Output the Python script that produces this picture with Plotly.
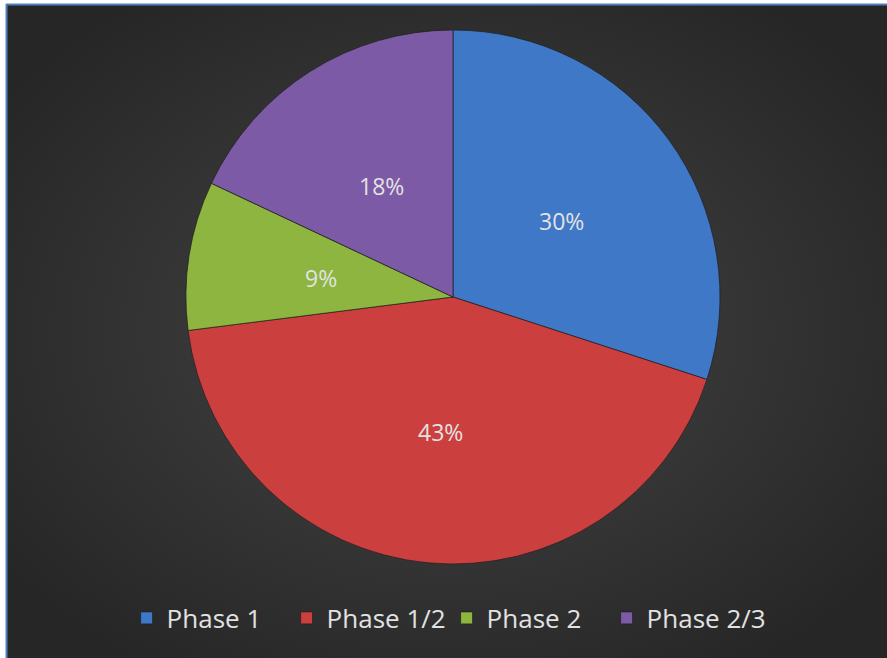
import base64
import math
import plotly.graph_objects as go

labels = ["Phase 1", "Phase 1/2", "Phase 2", "Phase 2/3"]
values = [30, 43, 9, 18]
colors = ["#3f78c6", "#cc3f3f", "#8db540", "#7c5aa6"]

W, H = 887, 658
left, top = 7, 5
dom_x = [186 / W, 720 / W]
dom_y = [(H - 564) / H, (H - 30) / H]

svg = f'''<svg xmlns="http://www.w3.org/2000/svg" width="{W-left}" height="{H-top}" viewBox="0 0 {W-left} {H-top}">
<defs><radialGradient id="g" cx="0.5" cy="0.5" r="0.62">
<stop offset="0" stop-color="#454545"/><stop offset="1" stop-color="#262626"/></radialGradient></defs>
<rect width="100%" height="100%" fill="url(#g)"/></svg>'''
bg_uri = "data:image/svg+xml;base64," + base64.b64encode(svg.encode()).decode()

fig = go.Figure(go.Pie(
    labels=labels,
    values=values,
    sort=False,
    direction="clockwise",
    rotation=0,
    marker=dict(colors=colors, line=dict(color="rgba(30,30,30,0.7)", width=1)),
    textinfo="none",
    hoverinfo="label+percent",
    domain=dict(x=dom_x, y=dom_y),
))

# percentage labels placed halfway along each slice's bisector (derived from values)
cx_px = (dom_x[0] + dom_x[1]) / 2 * W
cy_px = (dom_y[0] + dom_y[1]) / 2 * H
r_px = min((dom_x[1] - dom_x[0]) * W, (dom_y[1] - dom_y[0]) * H) / 2
total = sum(values)
annotations = []
cum = 0
for v in values:
    mid = 90 - (cum + v / 2) / total * 360
    cum += v
    px = cx_px + 0.5 * r_px * math.cos(math.radians(mid))
    py = cy_px + 0.5 * r_px * math.sin(math.radians(mid)) - 2
    annotations.append(dict(
        x=px / W, y=py / H, xref="paper", yref="paper", showarrow=False,
        text=f"{round(v / total * 100)}%",
        font=dict(family="Open Sans", size=23, color="#e2e2e2"),
        xanchor="center", yanchor="middle",
    ))

fig.update_layout(
    width=W, height=H,
    margin=dict(l=0, r=0, t=0, b=0),
    paper_bgcolor="white",
    showlegend=True,
    legend=dict(
        orientation="h", x=0.5035, xanchor="center", y=(H - 618) / H, yanchor="middle",
        font=dict(family="Open Sans", size=26, color="#e2e2e2"),
        bgcolor="rgba(0,0,0,0)", itemwidth=30,
        entrywidth=115, entrywidthmode="pixels",
    ),
    annotations=annotations,
    images=[dict(source=bg_uri, xref="paper", yref="paper", x=left / W, y=1 - top / H,
                 sizex=1 - left / W, sizey=1 - top / H, sizing="stretch", layer="below",
                 xanchor="left", yanchor="top")],
    shapes=[
        dict(type="line", xref="paper", yref="paper", x0=(left - 0.5) / W, x1=(left - 0.5) / W,
             y0=0, y1=1 - (top - 1) / H, line=dict(color="#4f81bd", width=2)),
        dict(type="line", xref="paper", yref="paper", x0=(left - 1) / W, x1=1,
             y0=1 - (top - 0.5) / H, y1=1 - (top - 0.5) / H, line=dict(color="#4f81bd", width=2)),
    ],
)

fig.write_html("out.html", config={"displayModeBar": False},
               post_script="document.body.style.margin='0';")
